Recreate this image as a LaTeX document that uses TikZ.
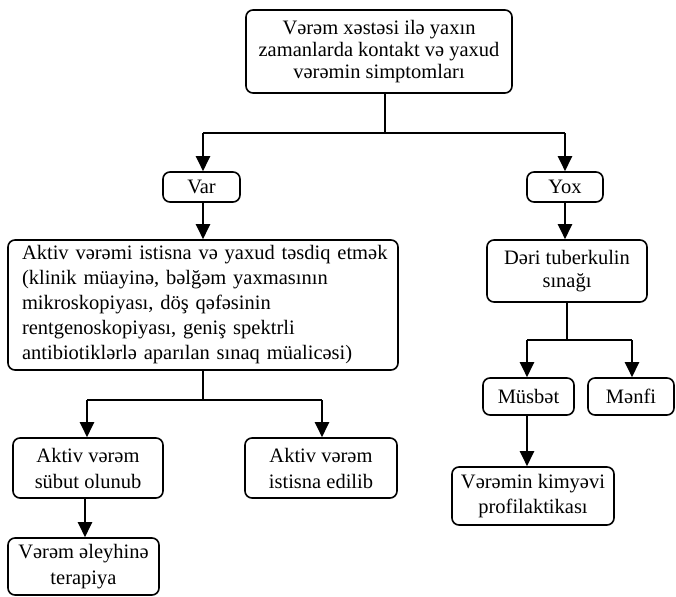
\documentclass[tikz,border=0pt]{standalone}
\usepackage{fontspec}
\setmainfont{Liberation Serif}
\usetikzlibrary{arrows.meta,calc}
\begin{document}
\begin{tikzpicture}[x=1pt,y=-1pt,
  box/.style={draw,line width=1.6pt,rounded corners=7pt,align=center,inner sep=0pt,
    font=\fontsize{20.5}{22}\selectfont},
  ls/.style={font=\fontsize{20.5}{#1}\selectfont},
  thinln/.style={line width=1.3pt},
  thickln/.style={line width=2.3pt},
  arr/.style={line width=2.3pt,-{Triangle[length=15pt,width=14pt]}}]
\useasboundingbox (0,0) rectangle (676,596);
\node[box,minimum width=266pt,minimum height=83pt] (top) at (379,51.5)
  {Vərəm xəstəsi ilə yaxın\\zamanlarda kontakt və yaxud\\vərəmin simptomları};
\node[box,minimum width=77pt,minimum height=30pt] (var) at (201.5,187) {Var};
\node[box,minimum width=76pt,minimum height=30pt] (yox) at (565,187) {Yox};
\node[box,ls=25,minimum width=390pt,minimum height=130pt,text width=362pt,align=left] (aktiv) at (203,305)
  {\mbox{Aktiv vərəmi istisna və yaxud təsdiq etmək}\\(klinik müayinə, bəlğəm yaxmasının\\mikroskopiyası, döş qəfəsinin\\rentgenoskopiyası, geniş spektrli\\\mbox{antibiotiklərlə aparılan sınaq müalicəsi)}};
\node[box,ls=23,minimum width=160pt,minimum height=62pt] (deri) at (567,271) {Dəri tuberkulin\\sınağı};
\node[box,minimum width=91pt,minimum height=37pt] (musbet) at (528.5,396.5) {Müsbət};
\node[box,minimum width=86pt,minimum height=37pt] (menfi) at (631,396.5) {Mənfi};
\node[box,ls=25,minimum width=162pt,minimum height=58pt] (kimya) at (533,496) {Vərəmin kimyəvi\\profilaktikası};
\node[box,ls=26,minimum width=150pt,minimum height=60pt] (subut) at (88,468) {Aktiv vərəm\\sübut olunub};
\node[box,ls=26,minimum width=152pt,minimum height=60pt] (istisna) at (321,468) {Aktiv vərəm\\istisna edilib};
\node[box,ls=26,minimum width=151pt,minimum height=57pt] (terapiya) at (83.5,566.5) {Vərəm əleyhinə\\terapiya};
% junctions
\coordinate (j1) at (385,133);
\coordinate (j1l) at (203,133);
\coordinate (j1r) at (565,133);
\coordinate (j2) at (203,400);
\coordinate (j2l) at (87,400);
\coordinate (j2r) at (322,400);
\coordinate (j3) at (567,340);
\coordinate (j3l) at (527,340);
\coordinate (j3r) at (632,340);
% connectors
\draw[thinln] (j1 |- top.south) -- (j1);
\draw[thickln] (j1l) -- (j1r);
\draw[arr] (j1l) -- (j1l |- var.north);
\draw[arr] (j1r) -- (j1r |- yox.north);
\draw[arr] (var.south -| j1l) -- (j1l |- aktiv.north);
\draw[arr] (yox.south) -- (yox.south |- deri.north);
\draw[thinln] (j3 |- deri.south) -- (j3);
\draw[thickln] (j3l) -- (j3r);
\draw[arr] (j3l) -- (j3l |- musbet.north);
\draw[arr] (j3r) -- (j3r |- menfi.north);
\draw[arr] (j3l |- musbet.south) -- (j3l |- kimya.north);
\draw[thinln] (j2 |- aktiv.south) -- (j2);
\draw[thickln] (j2l) -- (j2r);
\draw[arr] (j2l) -- (j2l |- subut.north);
\draw[arr] (j2r) -- (j2r |- istisna.north);
\coordinate (j4) at (85,500);
\draw[arr] (j4 |- subut.south) -- (j4 |- terapiya.north);
\end{tikzpicture}
\end{document}
